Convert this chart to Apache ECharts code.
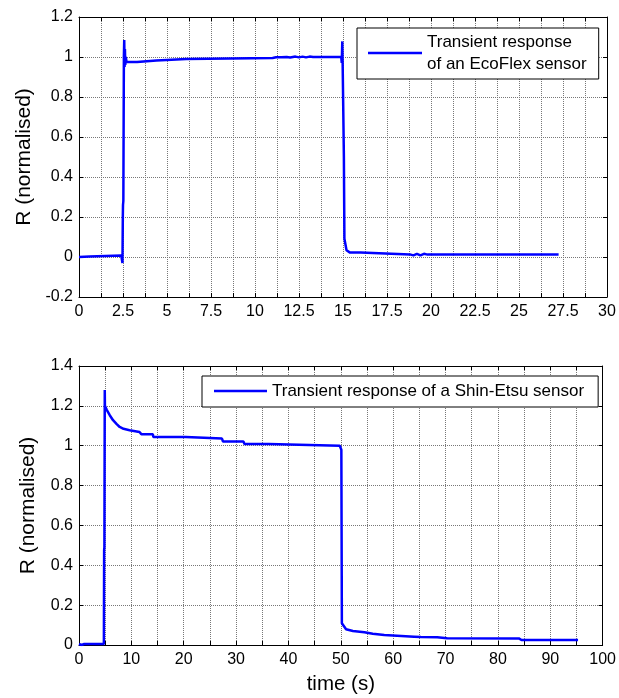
<!DOCTYPE html>
<html>
<head>
<meta charset="utf-8">
<script src="https://cdn.jsdelivr.net/npm/echarts@6/dist/echarts.min.js"></script>
<style>
html,body{margin:0;padding:0;background:#fff;}
#c{width:619px;height:698px;}
</style>
</head>
<body>
<div id="c"></div>
<script>
// EcoFlex sensor transient response (time in s, normalised R)
var ecoTime = [0, 0.6, 0.7, 2.4, 2.45, 2.47, 2.49, 2.5, 2.52, 2.55, 2.57, 2.59, 2.61, 2.63, 2.66, 2.7, 3.3, 3.4, 4.4, 4.5, 6.1, 6.2, 11.0, 11.2, 11.3, 11.5, 11.6, 11.8, 12.0, 12.3, 12.5, 12.7, 12.9, 13.1, 13.3, 14.9, 14.93, 14.96, 14.98, 15.02, 15.05, 15.08, 15.2, 15.4, 16.0, 16.1, 18.8, 19.0, 19.2, 19.4, 19.6, 19.8, 27.25];
var ecoR = [0, 0.002, 0.008, 0.008, 0.005, -0.03, 0.2, 0.26, 0.28, 1.0, 1.085, 0.95, 1.04, 0.96, 1.0, 0.975, 0.975, 0.98, 0.982, 0.988, 0.99, 0.995, 0.995, 0.999, 0.995, 0.999, 0.995, 1.0, 0.997, 1.002, 0.998, 1.002, 0.998, 1.002, 1.0, 1.0, 0.97, 1.078, 0.97, 0.96, 0.5, 0.092, 0.034, 0.022, 0.022, 0.013, 0.013, 0.008, 0.016, 0.008, 0.016, 0.012, 0.012];

// Shin-Etsu sensor transient response
var shinTime = [0, 0.5, 1.0, 4.75, 4.8, 4.85, 4.92, 4.95, 5.3, 5.87, 6.5, 7.2, 7.77, 8.5, 9.66, 11.55, 11.9, 14.1, 14.2, 20.4, 20.6, 27.3, 27.5, 31.4, 31.6, 36.2, 36.4, 49.8, 50.1, 50.2, 51.0, 52.3, 54.5, 56.1, 58.3, 64.0, 65.3, 68.4, 70.3, 84.0, 84.5, 95.3];
var shinR = [0.005, 0.0, 0.005, 0.005, 0.476, 0.49, 1.28, 1.2, 1.18, 1.153, 1.128, 1.108, 1.094, 1.085, 1.078, 1.069, 1.058, 1.058, 1.044, 1.044, 1.036, 1.036, 1.021, 1.021, 1.009, 1.009, 1.0, 1.0, 0.98, 0.109, 0.079, 0.07, 0.064, 0.056, 0.05, 0.042, 0.04, 0.039, 0.034, 0.033, 0.025, 0.025];

var ecoName = 'Transient response\nof an EcoFlex sensor';
var shinName = 'Transient response of a Shin-Etsu sensor';
var yTitle = 'R (normalised)';
var xTitle = 'time (s)';

function pairs(t, v) { return t.map(function (x, i) { return [x, v[i]]; }); }

var FONT = 'Liberation Sans, Arial, sans-serif';
var gridLine = { show: true, lineStyle: { color: '#777', type: [1, 1], width: 1 } };
var axLine = { show: true, onZero: false, lineStyle: { color: '#000', width: 1 } };
var tick = { show: true, inside: true, length: 4, lineStyle: { color: '#000' } };

function xAxes(gi, max, interval, title) {
  return [
    { type: 'value', gridIndex: gi, min: 0, max: max, interval: interval, position: 'bottom',
      axisLine: axLine, axisTick: tick,
      minorTick: { show: true, splitNumber: 2, length: 4, lineStyle: { color: '#000' } },
      splitLine: gridLine, minorSplitLine: gridLine,
      axisLabel: { color: '#000', fontFamily: FONT, fontSize: 16, margin: 7 },
      name: title || '', nameLocation: 'middle', nameGap: 29,
      nameTextStyle: { color: '#000', fontFamily: FONT, fontSize: 20.5 } },
    { type: 'value', gridIndex: gi, min: 0, max: max, interval: interval, position: 'top',
      axisLine: axLine, axisTick: tick,
      minorTick: { show: true, splitNumber: 2, length: 4, lineStyle: { color: '#000' } },
      splitLine: { show: false }, axisLabel: { show: false } }
  ];
}
function yAxes(gi, min, max) {
  return [
    { type: 'value', gridIndex: gi, min: min, max: max, interval: 0.2, position: 'left',
      axisLine: axLine, axisTick: tick, splitLine: gridLine,
      axisLabel: { color: '#000', fontFamily: FONT, fontSize: 16, margin: 6 },
      name: yTitle, nameLocation: 'middle', nameGap: 40,
      nameTextStyle: { color: '#000', fontFamily: FONT, fontSize: 21 } },
    { type: 'value', gridIndex: gi, min: min, max: max, interval: 0.2, position: 'right',
      axisLine: axLine, axisTick: tick, splitLine: { show: false }, axisLabel: { show: false } }
  ];
}

var chart = echarts.init(document.getElementById('c'), null, { renderer: 'canvas' });
var legendCommon = {
  show: true, orient: 'horizontal', icon: 'rect', itemHeight: 2.5, itemGap: 5,
  borderColor: '#000', borderWidth: 1, backgroundColor: '#fff', borderRadius: 0,
  textStyle: { color: '#000', fontFamily: FONT, fontSize: 17, lineHeight: 22 }
};
chart.setOption({
  animation: false,
  backgroundColor: '#fff',
  grid: [
    { left: 79, top: 17, width: 528, height: 280 },
    { left: 79, top: 366, width: 528, height: 279 }
  ],
  xAxis: xAxes(0, 30, 2.5, '').concat(xAxes(1, 100, 10, xTitle)),
  yAxis: yAxes(0, -0.2, 1.2).concat(yAxes(1, 0, 1.4)),
  legend: [
    Object.assign({}, legendCommon, { data: [ecoName], left: 357, top: 28, itemWidth: 54,
      padding: [3, 12, 4, 11] }),
    Object.assign({}, legendCommon, { data: [shinName], left: 202, top: 376, itemWidth: 53,
      padding: [4, 14, 5, 12] })
  ],
  series: [
    { name: ecoName, type: 'line', xAxisIndex: 0, yAxisIndex: 0, symbol: 'none',
      data: pairs(ecoTime, ecoR), lineStyle: { color: '#0000ff', width: 2.5 }, itemStyle: { color: '#0000ff' } },
    { name: shinName, type: 'line', xAxisIndex: 2, yAxisIndex: 2, symbol: 'none',
      data: pairs(shinTime, shinR), lineStyle: { color: '#0000ff', width: 2.5 }, itemStyle: { color: '#0000ff' } }
  ]
});
</script>
</body>
</html>
